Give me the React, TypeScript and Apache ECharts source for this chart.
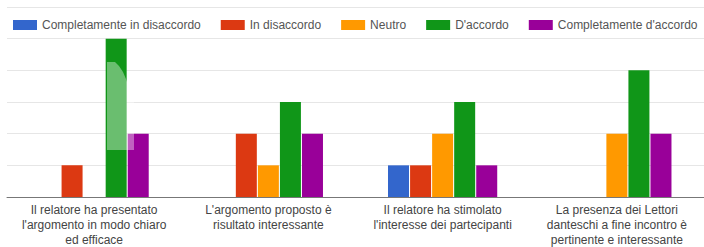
import React, { useEffect, useRef } from "react";
import * as echarts from "echarts";

const categories = [
  "Il relatore ha presentato\nl'argomento in modo chiaro\ned efficace",
  "L'argomento proposto è\nrisultato interessante",
  "Il relatore ha stimolato\nl'interesse dei partecipanti",
  "La presenza dei Lettori\ndanteschi a fine incontro è\npertinente e interessante",
];

const seriesNames = [
  "Completamente in disaccordo",
  "In disaccordo",
  "Neutro",
  "D'accordo",
  "Completamente d'accordo",
];

const completamenteInDisaccordo = [0, 0, 1, 0];
const inDisaccordo = [1, 2, 1, 0];
const neutro = [0, 1, 2, 2];
const dAccordo = [5, 3, 3, 4];
const completamenteDAccordo = [2, 2, 1, 2];

const colors = ["#3366cc", "#dc3912", "#ff9900", "#109618", "#990099"];

const FONT = "'Liberation Sans', Arial, sans-serif";

export default function App() {
  const ref = useRef<HTMLDivElement>(null);

  useEffect(() => {
    if (!ref.current) return;
    const chart = echarts.init(ref.current, undefined, { renderer: "svg" });
    const values = [
      completamenteInDisaccordo,
      inDisaccordo,
      neutro,
      dAccordo,
      completamenteDAccordo,
    ];
    chart.setOption({
      animation: false,
      textStyle: { fontFamily: FONT },
      color: colors,
      legend: {
        left: 8,
        top: 14,
        width: 1200,
        itemWidth: 24,
        itemHeight: 10,
        itemGap: 20,
        icon: "rect",
        textStyle: { fontFamily: FONT, fontSize: 12, color: "#555", padding: [0, 0, 0, 0] },
        data: seriesNames,
      },
      grid: { left: 7, top: 7, width: 701, height: 193, containLabel: false },
      xAxis: {
        type: "category",
        data: categories,
        axisTick: { show: false },
        axisLine: { lineStyle: { color: "#777", width: 1 } },
        axisLabel: {
          interval: 0,
          margin: 5,
          fontFamily: FONT,
          fontSize: 12,
          color: "#444",
          lineHeight: 15,
        },
      },
      yAxis: {
        type: "value",
        min: 0,
        max: 6,
        interval: 1,
        axisLabel: { show: false },
        axisLine: { show: false },
        axisTick: { show: false },
        splitLine: { lineStyle: { color: "#e6e6e6", width: 1 } },
      },
      series: seriesNames.map((name, i) => ({
        name,
        type: "bar",
        data: values[i],
        barWidth: 21,
        barGap: "5%",
        itemStyle: { color: colors[i] },
      })),
      graphic: [
        {
          type: "polygon",
          silent: true,
          z: 100,
          shape: {
            points: [
              [107, 62],
              [115, 62],
              [119, 66],
              [123, 72],
              [126, 79],
              [128, 85],
              [134, 100],
              [134, 150],
              [107, 150],
            ],
          },
          style: { fill: "rgba(255,255,255,0.38)" },
        },
      ],
    });
    return () => chart.dispose();
  }, []);

  return (
    <div
      ref={ref}
      style={{ position: "fixed", left: 0, top: 0, width: 704, height: 247, background: "#fff" }}
    />
  );
}
